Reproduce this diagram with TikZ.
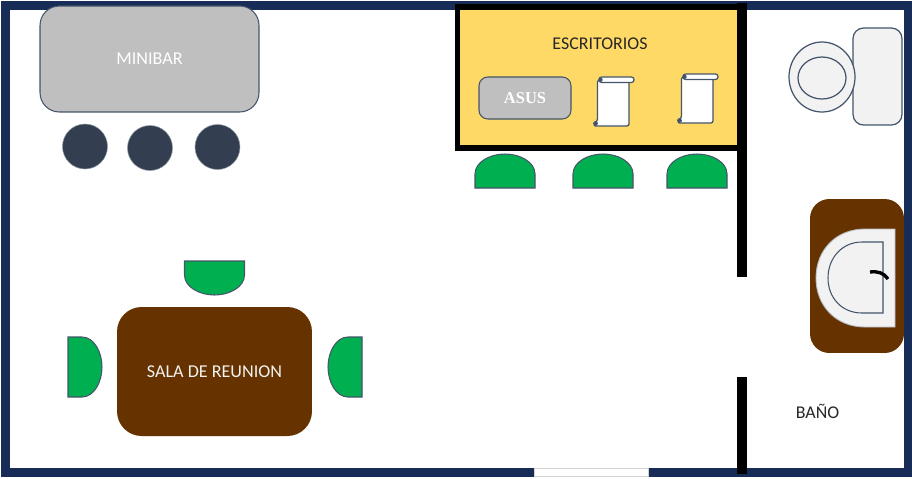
\documentclass[tikz,border=0pt]{standalone}
\usepackage{fontspec}
\setmainfont{Carlito}
\newfontfamily\asusfont{Liberation Serif}
\definecolor{wallblue}{HTML}{172D58}
\definecolor{stoolblue}{HTML}{333F50}
\definecolor{edgeblue}{HTML}{44546A}
\definecolor{deskyellow}{HTML}{FFD966}
\definecolor{bargray}{HTML}{BFBFBF}
\definecolor{chairgreen}{HTML}{00B050}
\definecolor{woodbrown}{HTML}{663300}
\definecolor{wareLight}{HTML}{F2F2F2}
\tikzset{
  furniture/.style={draw=edgeblue,line width=0.6pt,rounded corners=#1,inner sep=0pt},
  furniture/.default=11pt,
  stool/.style={circle,fill=stoolblue,draw=edgeblue!60,line width=0.3pt,minimum size=0.9cm,inner sep=0pt},
  ware/.style={draw=edgeblue,line width=0.7pt,fill=wareLight},
  innerwall/.style={line width=5.2pt,draw=black},
  roomlabel/.style={font=\fontsize{10.2}{12}\selectfont,inner sep=0pt},
  chair/.pic={\draw[draw=edgeblue,line width=0.6pt,fill=chairgreen] (-30,17) -- (-30,3) .. controls (-30,-9) and (-15,-17) .. (0,-17) .. controls (15,-17) and (30,-9) .. (30,3) -- (30,17) -- cycle;},
  scroll/.pic={
    \draw[draw=edgeblue,line width=0.7pt,fill=white,rounded corners=1.2pt] (1.5,3) -- (33,3) -- (33,49) -- (-2.5,49) -- (1.5,44) -- cycle;
    \draw[draw=edgeblue,line width=0.7pt,fill=white,rounded corners=1.5pt] (3,0) rectangle (38,5.5);
    \fill[edgeblue] (4.5,2.8) circle (2.2);
    \fill[edgeblue] (-0.5,46.5) circle (2.4);
  }
}
\begin{document}
\begin{tikzpicture}[x=0.02cm,y=-0.02cm]
\useasboundingbox (0,0) rectangle (912,478);
% outer walls
\draw[draw=wallblue,line width=5pt] (5.5,5.5) rectangle (908.5,472.5);
\draw[draw=bargray!70,line width=0.5pt,fill=white] (534,468) rectangle (648,476.5);
% minibar
\node[furniture,fill=bargray,minimum width=4.38cm,minimum height=2.12cm,text=white,font=\fontsize{10.3}{12}\selectfont] (minibar) at (149.5,59) {MINIBAR};
\node[stool] (stoolA) at (85,146.5) {};
\node[stool] (stoolB) at (150,148) {};
\node[stool] (stoolC) at (217.5,147) {};
% escritorios
\filldraw[fill=deskyellow,draw=black,line width=3.2pt] (457.5,7) rectangle (741.5,148);
\draw[innerwall] (742,3) -- (742,277);
\draw[innerwall] (742,377) -- (742,474);
\node[roomlabel,text=black!85] (escritorios) at (600,44) {ESCRITORIOS};
\node[furniture=5pt,draw=edgeblue,fill=bargray,minimum width=1.84cm,minimum height=0.84cm,text=white,font=\asusfont\bfseries\fontsize{9.4}{11}\selectfont] (asus) at (525,98) {ASUS};
\pic at (596,77) {scroll};
\pic at (680,74) {scroll};
\foreach \chairx in {505,603,697}
  \pic at (\chairx,171) {chair};
% sala de reunion
\node[rounded corners=14pt,fill=woodbrown,minimum width=3.9cm,minimum height=2.58cm,inner sep=0pt,text=wareLight,font=\fontsize{10.3}{12}\selectfont] (reunion) at (214.5,371.5) {SALA DE REUNION};
\pic[rotate=180] at (214.5,278) {chair};
\pic[rotate=-90] at (85,367) {chair};
\pic[rotate=90] at (345,367) {chair};
% bano
\node[ware,rounded corners=6pt,minimum width=0.98cm,minimum height=1.94cm,inner sep=0pt] (tank) at (877.5,76.5) {};
\draw[ware] (822,77) ellipse [x radius=33,y radius=35];
\draw[ware] (822,78) ellipse [x radius=24,y radius=21];
\node[rounded corners=11pt,fill=woodbrown,minimum width=1.88cm,minimum height=3.08cm,inner sep=0pt] (lavabo) at (857,276) {};
\draw[ware,draw=edgeblue!40,line width=0.5pt] (895,229) -- (865,229) .. controls (836,229) and (816,250) .. (816,278) .. controls (816,306) and (836,327) .. (865,327) -- (895,327) -- cycle;
\draw[ware,line width=0.6pt] (883,242) -- (862,242) .. controls (842,242) and (828,258) .. (828,278) .. controls (828,298) and (842,313) .. (862,313) -- (883,313) -- cycle;
\draw[line width=1.9pt] (870,272) .. controls (878,271) and (884,273) .. (888,279);
\node[roomlabel,text=black!85] (bano) at (817.5,411.5) {BAÑO};
\end{tikzpicture}
\end{document}
